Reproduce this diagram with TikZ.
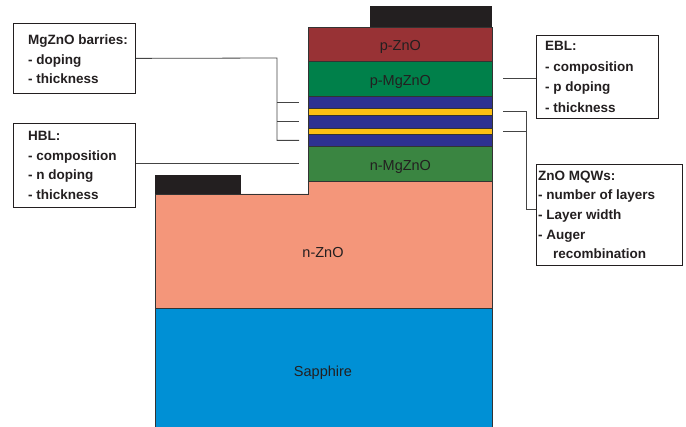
\documentclass[tikz,border=0pt]{standalone}
\usepackage{fontspec}
\setmainfont{Liberation Sans}
\usetikzlibrary{calc}
\definecolor{ink}{HTML}{231F20}
\definecolor{pzno}{HTML}{983235}
\definecolor{pmg}{HTML}{00804A}
\definecolor{navy}{HTML}{2E3192}
\definecolor{gold}{HTML}{FDC012}
\definecolor{nmg}{HTML}{3A8541}
\definecolor{salmon}{HTML}{F4967A}
\definecolor{sapph}{HTML}{0090D5}
\definecolor{edge}{HTML}{333333}
\definecolor{wire}{HTML}{444444}
\tikzset{
  layer/.style={draw=edge, line width=0.8pt, minimum width=184pt, anchor=north west, inner sep=0pt, text=ink,
    font=\fontsize{14.5}{16}\selectfont},
  named layer/.style={layer, text height=12.4pt, text depth=0pt},
  contact/.style={fill=ink, draw=none},
  infobox/.style={draw=ink, line width=0.8pt, anchor=north west, inner sep=0pt},
  boxtext/.style={anchor=west, align=left, text=ink, inner sep=0pt,
    font=\bfseries\fontsize{13.5}{19.7}\selectfont},
  conn/.style={draw=wire, line width=0.8pt},
  lbl/.style={text=ink, font=\fontsize{14.5}{16}\selectfont}
}
\begin{document}
\begin{tikzpicture}[x=1pt,y=-1pt]
\useasboundingbox (0,0) rectangle (686,427);
% substrate
\fill[sapph] (155,308) rectangle (492,427);
\draw[edge, line width=0.8pt] (155,427) -- (155,308) -- (492,308) -- (492,427);
\node[lbl] (sapphire) at (323,373) {Sapphire};
% n-ZnO stepped layer
\filldraw[fill=salmon, draw=edge, line width=0.8pt] (155,194) -- (308,194) -- (308,181) -- (492,181) -- (492,308) -- (155,308) -- cycle;
\node[lbl] (nzno) at (323,252.5) {n-ZnO};
% stack
\node[named layer, fill=nmg, minimum height=35pt] (nmgzno) at (308,146) {n-MgZnO};
\node[layer, fill=navy, minimum height=12pt] (blue3) at (308,134) {};
\node[layer, fill=gold, minimum height=6pt] (yel2) at (308,128) {};
\node[layer, fill=navy, minimum height=13pt] (blue2) at (308,115) {};
\node[layer, fill=gold, minimum height=7pt] (yel1) at (308,108) {};
\node[layer, fill=navy, minimum height=12pt] (blue1) at (308,96) {};
\node[named layer, fill=pmg, minimum height=35pt] (pmgzno) at (308,61) {p-MgZnO};
\node[named layer, fill=pzno, minimum height=34pt] (pzn) at (308,27) {p-ZnO};
% contacts
\fill[contact] (370,6) rectangle (492,27);
\fill[contact] (155,175) rectangle (241,194);
% info boxes
\node[infobox, minimum width=122pt, minimum height=70pt] (mgb) at (13,23) {};
\node[boxtext] (mgbt) at ($(mgb.west)+(15,1)$) {MgZnO barries:\\- doping\\- thickness};
\node[infobox, minimum width=122pt, minimum height=84pt] (hbl) at (13,123) {};
\node[boxtext] (hblt) at ($(hbl.west)+(15,0)$) {HBL:\\- composition\\- n doping\\- thickness};
\node[infobox, minimum width=122pt, minimum height=83pt] (ebl) at (536,35) {};
\node[boxtext, font=\bfseries\fontsize{13.5}{20.5}\selectfont] (eblt) at ($(ebl.west)+(9,0)$) {EBL:\\- composition\\- p doping\\- thickness};
\node[infobox, minimum width=146pt, minimum height=101pt] (mqw) at (536,164) {};
\node[boxtext] (mqwt) at ($(mqw.west)+(2,0)$) {ZnO MQWs:\\- number of layers\\- Layer width\\- Auger\\\hspace*{15pt}recombination};
% connector points
\coordinate (lj) at (277,58);
\coordinate (b1) at ($(blue1.west)+(-9,0)$);
\coordinate (b2) at ($(blue2.west)+(-9,0)$);
\coordinate (b3) at ($(blue3.west)+(-9,0)$);
\coordinate (nm) at ($(nmgzno.west)+(-9,0)$);
\coordinate (pm) at ($(pmgzno.east)+(10,0)$);
\coordinate (y1) at ($(yel1.east)+(10,0)$);
\coordinate (y2) at ($(yel2.east)+(10,0)$);
\coordinate (mqwin) at (536,209);
\coordinate (rj) at (526,209);
% connectors
\draw[conn] (mgb.east) -- (lj) |- (b3);
\draw[conn] (lj |- b1) -- (b1);
\draw[conn] (lj |- b2) -- (b2);
\draw[conn] (hbl.east |- nm) -- (nm);
\draw[conn] (ebl.west |- pm) -- (pm);
\draw[conn] (mqwin) -- (rj) |- (y1);
\draw[conn] (rj |- y2) -- (y2);
\end{tikzpicture}
\end{document}
